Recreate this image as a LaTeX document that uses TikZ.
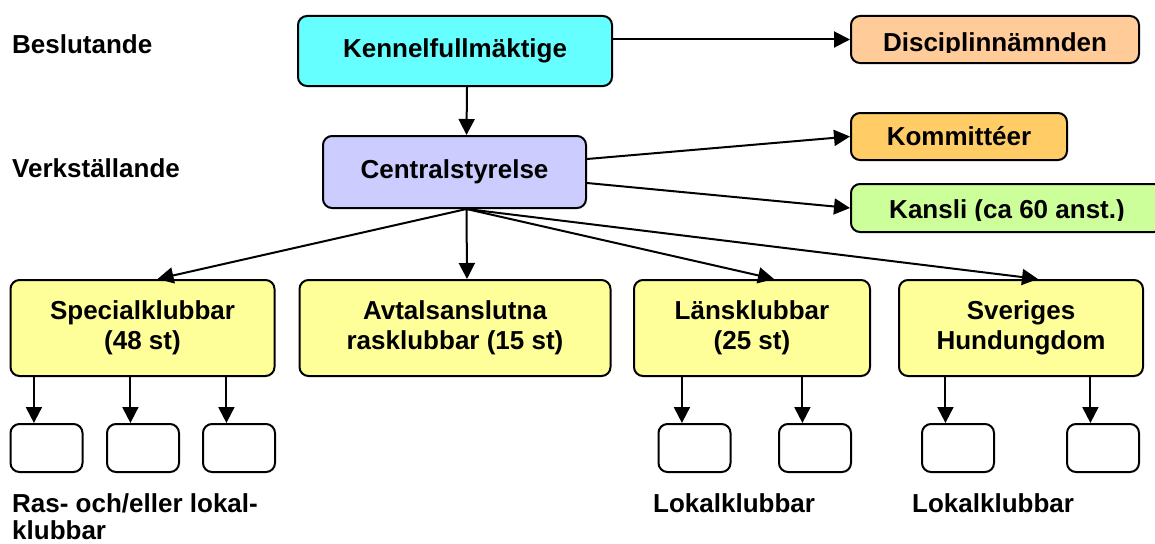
\documentclass[tikz,border=0pt]{standalone}
\usepackage{fontspec}
\newfontfamily\orgfont{Liberation Sans}
\usetikzlibrary{arrows.meta,calc}
\definecolor{kfcyan}{HTML}{66FFFF}
\definecolor{dnpeach}{HTML}{FFCC99}
\definecolor{koorange}{HTML}{FFCC66}
\definecolor{kagreen}{HTML}{CCFF99}
\definecolor{cslilac}{HTML}{CCCCFF}
\definecolor{clubyellow}{HTML}{FFFF99}
\tikzset{
	orgfont/.style={font=\orgfont\bfseries\fontsize{26pt}{30pt}\selectfont},
	org/.style={draw, line width=2pt, rounded corners=9pt, align=center, inner sep=0pt, orgfont},
	club/.style={org, fill=clubyellow, minimum height=96pt},
	localbox/.style={org, fill=white, minimum width=72pt, minimum height=48pt},
	lbl/.style={inner sep=0pt, align=left, orgfont},
	arr/.style={line width=2pt, -{Triangle[length=16pt,width=16pt]}}
}

\begin{document}
\begin{tikzpicture}[x=1pt,y=-1pt]
		%%%%% START %%%%%
		\useasboundingbox (0,0) rectangle (1155,543);
		
		% levels
		\node[lbl, anchor=base west] (beslut) at (12,53) {Beslutande};
		\node[lbl, anchor=base west] (verk) at (12,177) {Verkställande};
		
		% top
		\node[org, fill=kfcyan, minimum width=314pt, minimum height=70pt] (kf) at (455,51) {Kennelfullmäktige};
		\node[org, fill=dnpeach, minimum width=288pt, minimum height=47pt] (dn) at (995,39.5) {};
		\begin{scope}
			\clip (dn.north west) rectangle (dn.east |- 0,53);
			\node[lbl, anchor=base] (dntext) at (dn.center |- 0,52) {Disciplinnämnden};
		\end{scope}
		
		\node[org, fill=cslilac, minimum width=263pt, minimum height=72pt] (cs) at (454.5,172) {Centralstyrelse};
		\node[org, fill=koorange, minimum width=216pt, minimum height=47pt] (ko) at (959,136.5) {Kommittéer};
		\node[org, fill=kagreen, minimum width=312pt, minimum height=48pt] (ka) at (1007,208) {};
		\begin{scope}
			\clip (ka.north west) rectangle (ka.east |- 0,220);
			\node[lbl, anchor=base] (katext) at (ka.center |- 0,218) {Kansli (ca 60 anst.)};
		\end{scope}
		
		% clubs
		\node[club, minimum width=264pt] (sp) at (142.5,328) {Specialklubbar\\(48 st)};
		\node[club, minimum width=311pt] (av) at (455,328) {Avtalsanslutna\\rasklubbar (15 st)};
		\node[club, minimum width=236pt] (ln) at (752,328) {Länsklubbar\\(25 st)};
		\node[club, minimum width=244pt] (sh) at (1021,328) {Sveriges\\Hundungdom};
		
		\foreach \n/\x in {s1/46.5, s2/143, s3/239, l1/694.5, l2/815, h1/958, h2/1103}
			\node[localbox] (\n) at (\x,448) {};
		
		\node[lbl, anchor=base west] (raslokal) at (12,539) {Ras- och/eller lokal-\\[-3pt]klubbar};
		\node[lbl, anchor=base west] (lokal1) at (653,512) {Lokalklubbar};
		\node[lbl, anchor=base west] (lokal2) at (912,512) {Lokalklubbar};
		
		% arrows
		\draw[arr] (kf.east |- dn.west) -- (dn.west);
		\draw[arr] ([xshift=12pt]kf.south) -- ([xshift=12pt]cs.north);
		\draw[arr] ([yshift=13pt]cs.east) -- (ko.west);
		\draw[arr] ([yshift=-11pt]cs.east) -- (ka.west);
		
		\coordinate (hub) at ([xshift=12pt]cs.south);
		\draw[arr] (hub) -- ([xshift=15pt]sp.north);
		\draw[arr] (hub) -- ([xshift=12pt]av.north);
		\draw[arr] (hub) -- ([xshift=22pt]ln.north);
		\draw[arr] (hub) -- ([xshift=17pt]sh.north);
		
		\foreach \p/\c in {sp/s1, sp/s2, sp/s3, ln/l1, ln/l2, sh/h1, sh/h2}{
			\coordinate (\c-in) at ($(\c.north west)!0.33!(\c.north east)$);
			\draw[arr] (\c-in |- \p.south) -- (\c-in);
		}
		%%%%% END %%%%%
\end{tikzpicture}
\end{document}
